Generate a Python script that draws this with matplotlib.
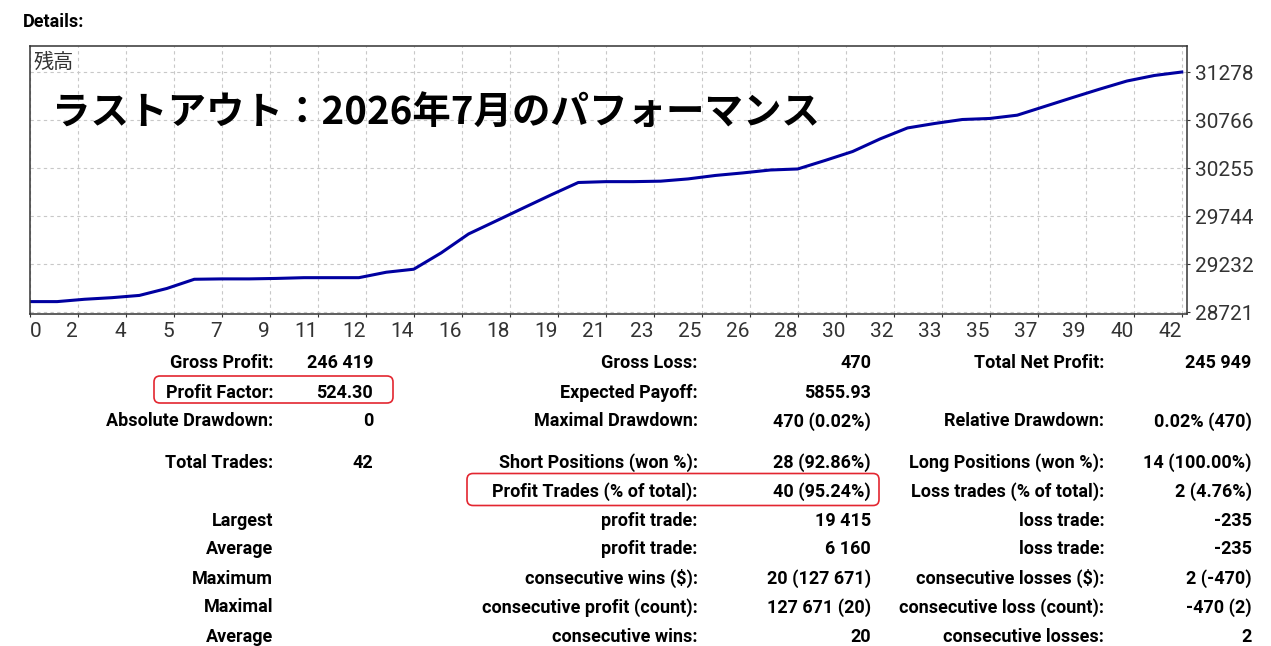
import matplotlib.pyplot as plt
from matplotlib.patches import FancyBboxPatch
import numpy as np

W, H = 1271, 646

# balance after each trade (chart units)
balance = [28835, 28835, 28860, 28877, 28901, 28975, 29073, 29077, 29077, 29082,
           29090, 29090, 29090, 29148, 29180, 29354, 29556, 29694, 29833, 29971,
           30104, 30113, 30113, 30118, 30142, 30179, 30206, 30237, 30248, 30339,
           30434, 30568, 30685, 30733, 30775, 30786, 30821, 30914, 31007, 31098,
           31185, 31244, 31281]
trades = list(range(len(balance)))

x_labels = ['0', '2', '4', '5', '7', '9', '11', '12', '14', '16', '18', '19', '21',
            '23', '25', '26', '28', '30', '32', '33', '35', '37', '39', '40', '42']
y_ticks = [28721, 29232, 29744, 30255, 30766, 31278]

title = 'ラストアウト：2026年7月のパフォーマンス'
series_name = '残高'
header = 'Details:'

col1 = [("Gross Profit:", "246 419"), ("Profit Factor:", "524.30"),
        ("Absolute Drawdown:", "0"), ("Total Trades:", "42"), ("", ""),
        ("Largest", ""), ("Average", ""), ("Maximum", ""), ("Maximal", ""),
        ("Average", "")]
col2 = [("Gross Loss:", "470"), ("Expected Payoff:", "5855.93"),
        ("Maximal Drawdown:", "470 (0.02%)"),
        ("Short Positions (won %):", "28 (92.86%)"),
        ("Profit Trades (% of total):", "40 (95.24%)"),
        ("profit trade:", "19 415"), ("profit trade:", "6 160"),
        ("consecutive wins ($):", "20 (127 671)"),
        ("consecutive profit (count):", "127 671 (20)"),
        ("consecutive wins:", "20")]
col3 = [("Total Net Profit:", "245 949"), ("", ""),
        ("Relative Drawdown:", "0.02% (470)"),
        ("Long Positions (won %):", "14 (100.00%)"),
        ("Loss trades (% of total):", "2 (4.76%)"),
        ("loss trade:", "-235"), ("loss trade:", "-235"),
        ("consecutive losses ($):", "2 (-470)"),
        ("consecutive loss (count):", "-470 (2)"),
        ("consecutive losses:", "2")]

plt.rcParams['font.family'] = ['Roboto', 'Noto Sans CJK JP', 'DejaVu Sans']

fig = plt.figure(figsize=(W / 100, H / 100), dpi=100)

# balance chart (pixel box 29.7..1187 x 46..314)
ax = fig.add_axes([29.7 / W, 1 - 314 / H, (1187 - 29.7) / W, (314 - 46) / H])
ax.plot(trades, balance, color='#0000a0', lw=2.2)
ax.set_xlim(0, 42.19)
ax.set_ylim(28703, 31558)
ax.set_xticks(np.linspace(0, trades[-1], len(x_labels)))
ax.set_xticklabels(x_labels)
ax.yaxis.tick_right()
ax.set_yticks(y_ticks)
ax.set_yticklabels([str(v) for v in y_ticks])
ax.grid(True, color='#c8c8c8', linestyle=(0, (3, 3)), lw=0.8)
ax.tick_params(length=2.2, width=0.8, colors='#333333', labelsize=15, pad=3.6)
for lab in ax.get_xticklabels():
    lab.set_ha('right')
ax.get_xticklabels()[0].set_ha('left')
for sp in ax.spines.values():
    sp.set_color('#333333')
    sp.set_linewidth(1.1)

# overlay in pixel coordinates for texts and boxes
ov = fig.add_axes([0, 0, 1, 1])
ov.set_xlim(0, W)
ov.set_ylim(H, 0)
ov.axis('off')
ov.patch.set_alpha(0)

ov.text(52, 112, title, fontsize=27.7, fontweight='bold', family='Noto Sans CJK JP',
        va='center', ha='left', color='black')
ov.text(34, 62.5, series_name, fontsize=14.5, family='Noto Sans CJK JP',
        va='center', ha='left', color='#333333')
ov.text(23, 26.7, header, fontsize=13, fontweight='bold', ha='left', va='baseline')

baselines = [368.5, 397.5, 426.5, 467.5, 496.5, 525.5, 554.5, 583.5, 612.5, 641.5]
col_edges = [(273.3, 373.3), (697.7, 871), (1104.3, 1251.7)]
for col, (xl, xv) in zip([col1, col2, col3], col_edges):
    for (label, value), yb in zip(col, baselines):
        ov.text(xl, yb, label, fontsize=13, fontweight='bold', ha='right', va='baseline')
        ov.text(xv, yb, value, fontsize=13, fontweight='bold', ha='right', va='baseline')

boxes = [(154, 376, 239, 27), (467, 473.5, 412, 32)]
for bx, by, bw, bh in boxes:
    ov.add_patch(FancyBboxPatch((bx, by), bw, bh, boxstyle='round,pad=0,rounding_size=6',
                                fill=False, edgecolor='#e32630', lw=1.2))

fig.savefig('out.png', dpi=100)
